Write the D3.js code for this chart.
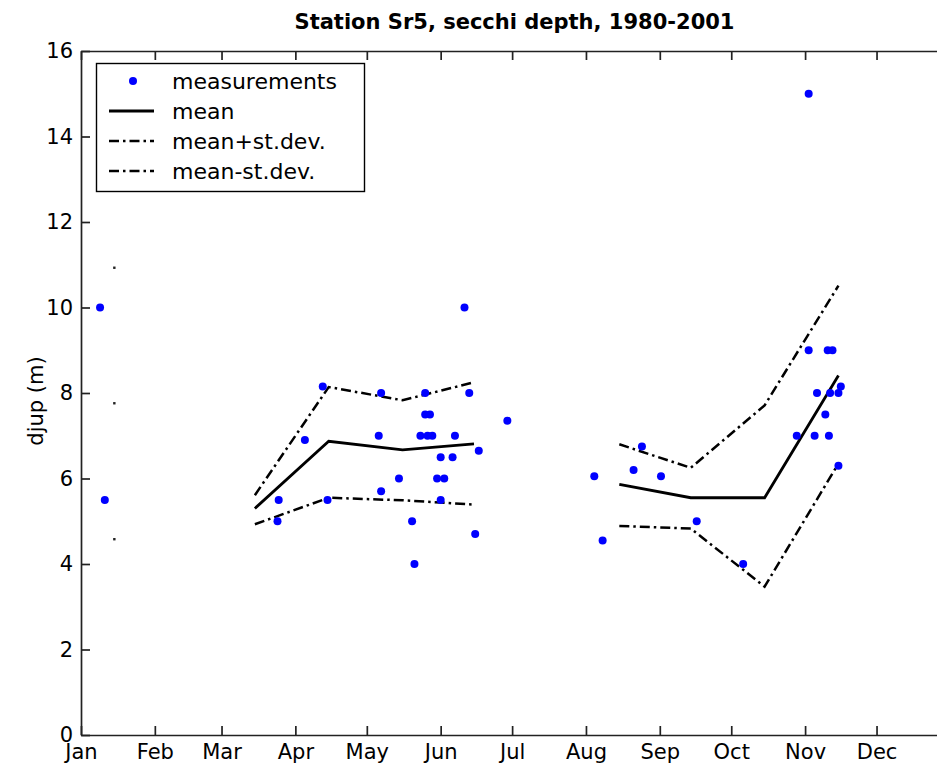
<!DOCTYPE html>
<html>
<head>
<meta charset="utf-8">
<script src="https://cdn.jsdelivr.net/npm/d3@7"></script>
<style>
  body { margin: 0; background: #fff; }
  svg { display: block; overflow: hidden; }
  text { font-family: "DejaVu Sans", sans-serif; fill: #000; }
  .tick text { font-size: 21px; }
  .domain, .tick line { stroke: #222; stroke-width: 1.7; }
</style>
</head>
<body>
<div class="container"></div>
<script>
// months on the x axis (day of year)
const months = ["Jan", "Feb", "Mar", "Apr", "May", "Jun", "Jul", "Aug", "Sep", "Oct", "Nov", "Dec"];
const monthStart = [1, 32, 60, 91, 121, 152, 182, 213, 244, 274, 305, 335];
const yTicks = [0, 2, 4, 6, 8, 10, 12, 14, 16];

// monthly statistics, placed mid month (null = no data)
const statDay     = [15, 45, 74, 105, 136, 166, 197, 227, 257, 288, 319, 349];
const meanDepth   = [7.76, null, 5.30, 6.87, 6.67, 6.81, null, 5.86, 5.55, 5.55, 8.41, null];
const meanPlusSd  = [10.93, null, 5.61, 8.14, 7.83, 8.25, null, 6.80, 6.25, 7.71, 10.51, null];
const meanMinusSd = [4.58, null, 4.93, 5.55, 5.49, 5.39, null, 4.89, 4.83, 3.47, 6.35, null];

// single secchi measurements
const measDay = [9, 11,
  83.5, 84,
  95, 102.5, 104.5,
  126, 127, 127, 134.5, 140, 141, 143.5, 145.5, 145.5, 146.5, 147.5, 148.5, 150.5,
  152, 152, 153.5, 157, 158, 162, 164, 166.5, 168, 180,
  216.5, 220, 233, 236.5, 244.5,
  259.5,
  279, 301.5,
  306.5, 306.5, 309, 310, 313.5, 314.5, 315, 315.5, 316.5, 319, 319, 320];
const measDepth = [10.0, 5.5,
  5.0, 5.5,
  6.9, 8.15, 5.5,
  7.0, 8.0, 5.7, 6.0, 5.0, 4.0, 7.0, 8.0, 7.5, 7.0, 7.5, 7.0, 6.0,
  6.5, 5.5, 6.0, 6.5, 7.0, 10.0, 8.0, 4.7, 6.65, 7.35,
  6.05, 4.55, 6.2, 6.75, 6.05,
  5.0,
  4.0, 7.0,
  15.0, 9.0, 7.0, 8.0, 7.5, 9.0, 7.0, 8.0, 9.0, 8.0, 6.3, 8.15];

const W = 937, H = 772;
const margin = {top: 51, left: 81};
const width = 867;
const height = 684;

const svg = d3.select(".container")
              .append("svg")
                .attr("width", W)
                .attr("height", H);

const g = svg.append("g")
             .attr("transform", "translate(" + margin.left + "," + margin.top + ")");

const x = d3.scaleLinear().domain([1, 365]).range([0, width]);
const y = d3.scaleLinear().domain([0, 16]).range([height, 0]);

// axes, MATLAB style box with inward ticks
g.append("g")
  .attr("transform", "translate(0," + height + ")")
  .call(d3.axisBottom(x).tickValues(monthStart).tickFormat((d, i) => months[i])
          .tickSizeInner(-9).tickSizeOuter(0).tickPadding(9));

g.append("g")
  .call(d3.axisTop(x).tickValues(monthStart).tickFormat("")
          .tickSizeInner(-9).tickSizeOuter(0));

g.append("g")
  .call(d3.axisLeft(y).tickValues(yTicks).tickFormat(d3.format("d"))
          .tickSizeInner(-9).tickSizeOuter(0).tickPadding(8));

g.append("g")
  .attr("transform", "translate(" + width + ",0)")
  .call(d3.axisRight(y).tickValues(yTicks).tickFormat("")
          .tickSizeInner(-9).tickSizeOuter(0));

// title and y label
svg.append("text")
  .attr("x", margin.left + width / 2)
  .attr("y", 29)
  .attr("text-anchor", "middle")
  .style("font-size", "21px")
  .style("font-weight", "bold")
  .text("Station Sr5, secchi depth, 1980-2001");

svg.append("text")
  .attr("transform", "translate(43," + (margin.top + height / 2 + 8) + ") rotate(-90)")
  .attr("text-anchor", "middle")
  .style("font-size", "21px")
  .text("djup (m)");

// stat lines
const series = [
  {name: "mean", vals: meanDepth, dash: null, w: 2.8},
  {name: "mean+st.dev.", vals: meanPlusSd, dash: "10,4,2.5,4", w: 2.5},
  {name: "mean-st.dev.", vals: meanMinusSd, dash: "10,4,2.5,4", w: 2.5}
];

const line = d3.line()
  .defined(d => d.v != null)
  .x(d => x(d.day))
  .y(d => y(d.v));

series.forEach(s => {
  let pts = statDay.map((day, i) => ({day: day, v: s.vals[i]}));

  g.append("path")
    .datum(pts)
    .attr("fill", "none")
    .attr("stroke", "#000")
    .attr("stroke-width", s.w)
    .attr("stroke-dasharray", s.dash)
    .attr("d", line);

  // a month with no neighbours shows only as a dot
  let lonely = pts.filter((d, i) => d.v != null &&
                 (i == 0 || pts[i-1].v == null) &&
                 (i == pts.length-1 || pts[i+1].v == null));
  g.selectAll(null)
    .data(lonely)
    .enter()
    .append("rect")
    .attr("x", d => x(d.day) - 1.2)
    .attr("y", d => y(d.v) - 1.2)
    .attr("width", 2.4)
    .attr("height", 2.4)
    .attr("fill", "#222");
});

// measurements
g.selectAll(".meas")
  .data(measDay.map((d, i) => ({day: d, v: measDepth[i]})))
  .enter()
  .append("circle")
  .classed("meas", true)
  .attr("cx", d => x(d.day))
  .attr("cy", d => y(d.v))
  .attr("r", 4)
  .attr("fill", "#0000ff");

// legend
const legend = svg.append("g");

legend.append("rect")
  .attr("x", 96.5)
  .attr("y", 63.5)
  .attr("width", 268)
  .attr("height", 128)
  .attr("fill", "#fff")
  .attr("stroke", "#000")
  .attr("stroke-width", 1.4);

const legendRows = ["measurements"].concat(series.map(s => s.name));
const rowY = [81, 111, 141, 171];

legendRows.forEach((name, i) => {
  if (i == 0) {
    legend.append("circle")
      .attr("cx", 133)
      .attr("cy", rowY[i])
      .attr("r", 4)
      .attr("fill", "#0000ff");
  } else {
    let s = series[i-1];
    legend.append("line")
      .attr("x1", 109)
      .attr("x2", 154)
      .attr("y1", rowY[i])
      .attr("y2", rowY[i])
      .attr("stroke", "#000")
      .attr("stroke-width", s.w)
      .attr("stroke-dasharray", s.dash);
  }
  legend.append("text")
    .attr("x", 172)
    .attr("y", rowY[i] + 8)
    .style("font-size", "22px")
    .text(name);
});
</script>
</body>
</html>
